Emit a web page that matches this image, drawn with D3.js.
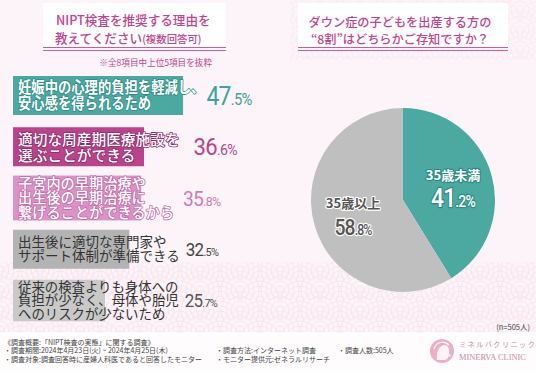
<!DOCTYPE html>
<html lang="ja">
<head>
<meta charset="UTF-8">
<script src="https://d3js.org/d3.v7.min.js"></script>
<style>
  html, body { margin: 0; padding: 0; background: #fcf4f8; }
  svg { display: block; font-family: "Noto Sans CJK JP", "Noto Sans", sans-serif; }
</style>
</head>
<body>
<script>
// ---- data ----
var reasonLines = [
  ["妊娠中の心理的負担を軽減し、", "安心感を得られるため"],
  ["適切な周産期医療施設を", "選ぶことができる"],
  ["子宮内の早期治療や", "出生後の早期治療に", "繋げることができるから"],
  ["出生後に適切な専門家や", "サポート体制が準備できる"],
  ["従来の検査よりも身体への", "負担が少なく、母体や胎児", "へのリスクが少ないため"]
];
var reasonValues = [47.5, 36.6, 35.8, 32.5, 25.7];

var pieLabels = ["35歳未満", "35歳以上"];
var pieValues = [41.2, 58.8];

var leftTitle = ["NIPT検査を推奨する理由を", "教えてください", "(複数回答可)"];
var leftNote = "※全8項目中上位5項目を抜粋";
var rightTitle = ["ダウン症の子どもを出産する方の", "“8割”はどちらかご存知ですか？"];
var sampleNote = "(n=505人)";
var surveyCol1 = ["《調査概要:「NIPT検査の実態」に関する調査》",
                  "・調査期間:2024年4月23日(火) ~ 2024年4月25日(木)",
                  "・調査対象:調査回答時に産婦人科医であると回答したモニター"];
var surveyCol2 = ["・調査方法:インターネット調査", "・モニター提供元:ゼネラルリサーチ"];
var surveyCol3 = ["・調査人数:505人"];

// ---- styles per bar ----
var barStyle = [
  {fill: "#4ba9a1", text: "#fff", outline: "#2f8a82", fs: 15.5, sx: 0.86, lh: 16, weight: 700, num: "#3fa39b", nfs: 25, gap: 2},
  {fill: "#b8448c", text: "#fff", outline: "#8e2a68", fs: 15, sx: 0.98, lh: 16.5, weight: 500, num: "#b8448c", nfs: 24, gap: 14},
  {fill: "#dc92c6", text: "#fff", outline: "#c06aa6", fs: 14.5, sx: 0.98, lh: 14.6, weight: 500, num: "#d17cb6", nfs: 21, gap: 6},
  {fill: "#b3b3b3", text: "#333", outline: null, fs: 13.5, sx: 1, lh: 14, weight: 400, num: "#444", nfs: 18.5, gap: 6},
  {fill: "#c9c9c9", text: "#333", outline: null, fs: 13.4, sx: 1, lh: 13.5, weight: 400, num: "#555", nfs: 18.5, gap: 6}
];

var width = 536, height = 371;
var svg = d3.select("body").append("svg").attr("width", width).attr("height", height);

// background
var defs = svg.append("defs");
var pat = defs.append("pattern").attr("id", "wave").attr("patternUnits", "userSpaceOnUse")
  .attr("width", 40).attr("height", 20);
[[20, 20], [0, 10], [40, 10], [0, 30], [40, 30]].forEach(function(c) {
  [19, 14, 9, 4].forEach(function(r) {
    pat.append("circle").attr("cx", c[0]).attr("cy", c[1]).attr("r", r)
      .attr("fill", "none").attr("stroke", "#f2d3e1").attr("stroke-width", 0.8);
  });
});
svg.append("rect").attr("width", width).attr("height", height).attr("fill", "#fcf4f8");
svg.append("rect").attr("x", 0).attr("y", 262).attr("width", width).attr("height", 70)
  .attr("fill", "url(#wave)").attr("opacity", 0.55);
svg.append("rect").attr("x", 290).attr("y", 0).attr("width", 246).attr("height", 60)
  .attr("fill", "url(#wave)").attr("opacity", 0.35);
svg.append("rect").attr("x", 0).attr("y", 332).attr("width", width).attr("height", 39).attr("fill", "#fefcfd");

// ---- titles ----
function titleBox(x0, x1) {
  svg.append("rect").attr("x", x0).attr("y", 3).attr("width", x1 - x0).attr("height", 44).attr("fill", "#fff");
  [47.5, 50.5].forEach(function(y) {
    svg.append("line").attr("x1", x0).attr("x2", x1).attr("y1", y).attr("y2", y)
      .attr("stroke", "#c75f9c").attr("stroke-width", 1);
  });
}
titleBox(43, 226);
titleBox(298, 508);

svg.append("text").attr("x", 56).attr("y", 25).attr("fill", "#c2448e")
  .attr("font-size", 12.6).attr("font-weight", 500).text(leftTitle[0]);
var t2 = svg.append("text").attr("x", 55).attr("y", 43).attr("fill", "#c2448e").attr("font-weight", 500);
t2.append("tspan").attr("font-size", 12.6).text(leftTitle[1]);
t2.append("tspan").attr("font-size", 10.4).text(leftTitle[2]);
svg.append("text").attr("x", 212).attr("y", 66).attr("text-anchor", "end").attr("fill", "#c2448e")
  .attr("font-size", 8.6).text(leftNote);

var rt = svg.append("text").attr("text-anchor", "middle").attr("fill", "#c2448e")
  .attr("font-size", 12.2).attr("font-weight", 500);
rightTitle.forEach(function(s, i) {
  rt.append("tspan").attr("x", 400).attr("y", 27 + i * 16.5).text(s);
});

// ---- bars ----
var x = d3.scaleLinear().domain([0, 50]).range([13, 192]);
var yc = d3.scalePoint().domain(d3.range(reasonValues.length)).range([95.5, 300.5]);

var gBars = svg.append("g");
reasonValues.forEach(function(v, i) {
  var st = barStyle[i], lines = reasonLines[i];
  var h = Math.max(39, lines.length * st.lh + 1);
  var top = yc(i) - h / 2;
  gBars.append("rect").attr("x", x(0)).attr("y", top).attr("width", x(v) - x(0)).attr("height", h)
    .attr("fill", st.fill);

  var pad = (h - lines.length * st.lh) / 2;
  var base = top + pad + st.lh - 0.14 * st.fs;
  var t = gBars.append("text")
    .attr("transform", "translate(18," + base + ") scale(" + st.sx + ",1)")
    .attr("font-size", st.fs).attr("font-weight", st.weight).attr("fill", st.text);
  if (st.outline) {
    t.attr("stroke", st.outline).attr("stroke-width", 1.6).attr("paint-order", "stroke").attr("stroke-linejoin", "round");
  }
  var textEnd = 0;
  lines.forEach(function(s, j) {
    var ts = t.append("tspan").attr("x", 0).attr("y", j * st.lh).text(s);
    textEnd = Math.max(textEnd, 18 + ts.node().getComputedTextLength() * st.sx);
  });

  var lx = Math.max(textEnd + st.gap, x(v) + st.gap, 183);
  var parts = v.toFixed(1).split(".");
  var lab = gBars.append("text")
    .attr("transform", "translate(" + lx + "," + (yc(i) + 0.36 * st.nfs) + ") scale(0.92,1)")
    .attr("font-family", "Roboto, sans-serif").attr("font-weight", 400).attr("fill", st.num)
    .attr("letter-spacing", -0.8);
  lab.append("tspan").attr("font-size", st.nfs).text(parts[0]);
  lab.append("tspan").attr("font-size", st.nfs * 0.64).text("." + parts[1] + "%");
});

// ---- pie ----
var pieColors = ["#4ba9a1", "#bfbfbf"];
var cx = 403, cy = 200, R = 92;
var pie = d3.pie().sort(null)(pieValues);
var arc = d3.arc().innerRadius(0).outerRadius(R);
var labelArc = d3.arc().innerRadius(52).outerRadius(52);
var gPie = svg.append("g").attr("transform", "translate(" + cx + "," + cy + ")");
gPie.selectAll("path").data(pie).enter().append("path")
  .attr("d", arc).attr("fill", function(d, i) { return pieColors[i]; });

var pieText = [
  {fill: "#fff", stroke: "#2f8a82"},
  {fill: "#555", stroke: "#fff"}
];
pie.forEach(function(d, i) {
  var c = labelArc.centroid(d);
  var st = pieText[i];
  gPie.append("text").attr("x", c[0]).attr("y", c[1] - 6).attr("text-anchor", "middle")
    .attr("font-size", 13).attr("font-weight", 700).attr("fill", st.fill)
    .attr("stroke", st.stroke).attr("stroke-width", 2.2).attr("paint-order", "stroke").attr("stroke-linejoin", "round")
    .text(pieLabels[i]);
  var parts = pieValues[i].toFixed(1).split(".");
  var t = gPie.append("text")
    .attr("transform", "translate(" + c[0] + "," + (c[1] + 21) + ") scale(0.88,1)")
    .attr("text-anchor", "middle").attr("font-family", "Roboto, sans-serif").attr("font-weight", 500)
    .attr("fill", st.fill).attr("stroke", st.stroke).attr("stroke-width", 2.4)
    .attr("paint-order", "stroke").attr("stroke-linejoin", "round").attr("letter-spacing", -1);
  t.append("tspan").attr("font-size", i === 0 ? 26 : 22).text(parts[0]);
  t.append("tspan").attr("font-size", i === 0 ? 16 : 14).text("." + parts[1] + "%");
});

// ---- footer ----
svg.append("text").attr("x", 530).attr("y", 330).attr("text-anchor", "end")
  .attr("font-size", 7.5).attr("fill", "#444").text(sampleNote);
function col(lines, x0, y0) {
  var t = svg.append("text").attr("font-size", 7).attr("fill", "#444");
  lines.forEach(function(s, i) {
    t.append("tspan").attr("x", x0).attr("y", y0 + i * 8.8).text(s);
  });
}
col(surveyCol1, 4, 344.5);
col(surveyCol2, 216, 353.3);
col(surveyCol3, 338, 353.3);

// logo
var logo = svg.append("g").attr("transform", "translate(442,351)");
logo.append("circle").attr("r", 12).attr("fill", "#eeaec4");
logo.append("path").attr("d", "M-5,9 C-6,3 -4,-5 2,-6 C6,-6 8,-2 7,2 L9,5 L6,6 C6,8 4,9 2,9 Z").attr("fill", "#fff").attr("opacity", 0.85);
logo.append("path").attr("d", "M-8,-2 C-6,-9 2,-11 7,-6").attr("fill", "none").attr("stroke", "#fff").attr("stroke-width", 1.2);
svg.append("text").attr("x", 459).attr("y", 347).attr("font-size", 7.2).attr("letter-spacing", 1.4)
  .attr("fill", "#c98ba6").text("ミネルバクリニック");
svg.append("text").attr("x", 459).attr("y", 359.5).attr("font-size", 8.4)
  .attr("font-family", "Liberation Serif, DejaVu Serif, serif").attr("fill", "#c98ba6")
  .text("MINERVA CLINIC");
</script>
</body>
</html>
